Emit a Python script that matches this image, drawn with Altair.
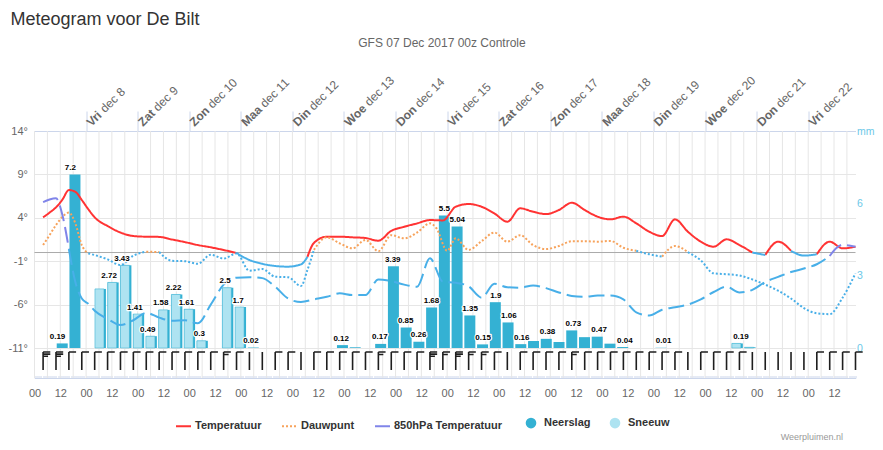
import altair as alt
import pandas as pd

# ---------------- data (local time, hours after 07 Dec 00:00) ----------------
temp_hours = [4, 7, 10, 13, 16, 19, 22, 25, 28, 34, 40, 46, 52, 58, 64, 70, 76, 82, 88, 94,
              100, 106, 112, 118, 124, 127, 130, 136, 142, 148, 154, 160, 166, 172, 178, 184,
              190, 196, 202, 208, 214, 220, 226, 232, 238, 244, 250, 256, 262, 268, 274, 280,
              286, 292, 298, 304, 310, 316, 322, 328, 334, 340, 346, 352, 358, 364, 370, 376, 382]
temp_values = [4.05, 4.6, 5.2, 6.1, 7.2, 7.0, 6.05, 5.0, 4.05, 3.05, 2.3, 1.9, 1.82, 1.8, 1.5, 1.2,
               0.86, 0.6, 0.29, -0.05, -0.86, -1.3, -1.55, -1.63, -1.36, -0.5, 1.1, 1.82, 1.82,
               1.75, 1.67, 1.36, 2.5, 2.97, 3.36, 3.74, 3.7, 5.28, 5.59, 5.28, 4.5, 3.55, 5.09,
               4.7, 4.43, 4.9, 5.74, 4.9, 4.13, 3.82, 4.13, 3.36, 2.4, 1.9, 3.82, 2.4, 1.25, 0.67,
               1.52, 0.86, 0.0, -0.29, 1.25, 0.2, -0.35, -0.2, 1.25, 0.48, 0.67]

dew_hours = [4, 7, 10, 13, 16, 19, 22, 25, 28, 34, 40, 46, 52, 58, 64, 70, 76, 82, 88, 94,
             100, 106, 112, 118, 124, 127, 130, 136, 142, 148, 154, 160, 166, 172, 178, 184,
             187, 192, 196, 202, 208, 214, 220, 226, 232, 238, 244, 250, 256, 262, 268, 274,
             280, 286, 292, 298, 304, 310, 316, 322, 328, 334, 340, 346, 352, 358, 364, 370, 376, 382]
dew_values = [0.86, 2.0, 3.17, 4.1, 4.6, 3.36, 0.86, -0.1, -0.29, -0.79, -1.44, -0.37, 0.1, 0.05,
              -0.95, -1.0, -1.3, -0.25, -0.7, -0.1, -2.1, -1.9, -2.79, -2.85, -3.86, -2.0, 0.3,
              1.75, 1.06, 0.48, 1.45, 0.15, 2.0, 1.63, 2.3, 3.36, 2.8, 0.2, 1.63, 0.3, 1.3, 2.3,
              1.25, 2.0, 0.85, 0.4, 0.75, 1.3, 1.3, 1.25, 1.33, 0.55, 0.2, -0.2, -0.48, 0.75, 0.05,
              -0.9, -2.4, -2.5, -2.65, -3.1, -3.7, -4.4, -5.3, -6.4, -7.0, -7.1, -5.2, -2.4]

t850_hours = [4, 7, 10, 13, 16, 19, 22, 25, 28, 34, 40, 46, 52, 58, 64, 70, 76, 82, 88, 94,
              100, 106, 112, 118, 124, 130, 136, 142, 148, 154, 160, 166, 172, 178, 184, 190,
              196, 202, 208, 214, 220, 226, 232, 238, 244, 250, 256, 262, 268, 274, 280, 286,
              292, 298, 304, 310, 316, 322, 328, 334, 340, 346, 352, 358, 364, 370, 373, 376, 379, 382]
t850_values = [5.8, 6.1, 6.24, 4.3, 0.4, -3.4, -5.3, -5.9, -6.7, -7.65, -8.35, -7.8, -6.95, -7.5,
               -7.85, -7.8, -8.16, -6.0, -3.7, -2.9, -2.85, -2.95, -3.94, -5.3, -5.7, -5.4, -5.1,
               -4.7, -4.9, -4.9, -3.1, -3.3, -3.7, -3.94, -0.67, -3.36, -3.48, -3.9, -5.2, -3.6,
               -4.0, -4.05, -3.8, -4.1, -4.6, -5.0, -5.1, -4.95, -4.95, -5.4, -6.9, -7.25, -6.6,
               -6.3, -6.0, -5.4, -4.55, -3.94, -4.6, -4.3, -3.4, -2.8, -2.25, -1.85, -1.35, -0.4,
               0.5, 0.9, 0.8, 0.67]

# 6-hourly precipitation (mm), periods ending at 13h, 19h, 01h, ... local
precip_end_hours = [13 + 6 * k for k in range(55)]
precip_values = [0.19, 7.2, 0, 2.45, 2.72, 3.43, 1.41, 0.49, 1.58, 2.22, 1.61, 0.3, 0, 2.5, 1.7,
                 0.02, 0, 0, 0, 0, 0, 0, 0.12, 0.03, 0, 0.17, 3.39, 0.85, 0.26, 1.68, 5.5, 5.04,
                 1.35, 0.15, 1.9, 1.06, 0.16, 0.29, 0.38, 0.25, 0.73, 0.45, 0.47, 0.18, 0.04, 0, 0,
                 0.01, 0, 0, 0, 0, 0, 0.19, 0.03]
snow_periods = [3, 4, 5, 6, 7, 8, 9, 10, 11, 13, 14, 53, 54]
unlabelled_periods = [3, 23, 37, 39, 41, 43, 54]

# wind barbs every 6 h (number of feather lines)
barb_hours = [4 + 6 * k for k in range(64)]
barb_types = [3, 3, 1, 1, 1, 1, 1, 1, 1, 1, 1, 1, 1, 1, 2, 1, 0, 0, 1, 1, 0, 1, 1, 1, 1, 1,
              2, 1, 1, 1, 3, 2, 3, 2, 2, 1, 0, 1, 1, 1, 1, 2, 1, 1, 1, 1, 1, 1, 1, 1, 0,
              1, 1, 1, 1, 0, 0, 0, 0, 0, 1, 1, 1, 1]

day_hours = [24 * d for d in range(1, 16)]
day_names = ["Vri", "Zat", "Zon", "Maa", "Din", "Woe", "Don", "Vri", "Zat", "Zon", "Maa",
             "Din", "Woe", "Don", "Vri"]
day_dates = ["dec 8", "dec 9", "dec 10", "dec 11", "dec 12", "dec 13", "dec 14", "dec 15",
             "dec 16", "dec 17", "dec 18", "dec 19", "dec 20", "dec 21", "dec 22"]
grid_hours = list(range(0, 379, 6))

series_names = ["Temperatuur", "Dauwpunt", "850hPa Temperatuur"]
series_colors = ["#ff3333", "#f7a35c", "#8085e9"]
series_dashes = [[1, 0], [2, 2], [16, 6]]
neg_color = "#48afe8"
rain_color = "#34b1d3"
snow_color = "#aee3f1"

# ---------------- table building ----------------
def zone_rows(name, hours, values):
    n = len(values)
    sign = [v >= 0 for v in values]
    groups = []
    s = 0
    for i in range(1, n):
        if sign[i] != sign[i - 1]:
            groups.append([s, i - 1, sign[s]])
            s = i
    groups.append([s, n - 1, sign[s]])
    for g in range(len(groups) - 1):
        a, b = groups[g][1], groups[g + 1][0]
        if abs(values[a]) <= abs(values[b]):
            groups[g + 1][0] = a
        else:
            groups[g][1] = b
    rows = []
    for gi, (s0, e0, above) in enumerate(groups):
        for i in range(s0, e0 + 1):
            rows.append({"series": name, "hour": hours[i], "value": values[i],
                         "run": f"{name}-{gi}", "above": above})
    return rows

line_rows = (zone_rows(series_names[0], temp_hours, temp_values)
             + zone_rows(series_names[1], dew_hours, dew_values)
             + zone_rows(series_names[2], t850_hours, t850_values))
lines_df = pd.DataFrame(line_rows)
pos_df = lines_df[lines_df["above"]].drop(columns="above")
neg_df = lines_df[~lines_df["above"]].drop(columns="above")

rain_df = pd.DataFrame({
    "center": [h - 2.3 for h in precip_end_hours],
    "mm": precip_values,
    "kind": ["Neerslag"] * len(precip_values),
})
snow_df = pd.DataFrame({
    "center": [precip_end_hours[k] - 2.75 for k in snow_periods],
    "mm": [precip_values[k] for k in snow_periods],
    "kind": ["Sneeuw"] * len(snow_periods),
})
label_df = pd.DataFrame([
    {"center": precip_end_hours[k] - 2.3, "mm": v, "label": f"{v:g}"}
    for k, v in enumerate(precip_values) if v > 0 and k not in unlabelled_periods
])
barb_df = pd.DataFrame({"hour": barb_hours, "btype": [str(b) for b in barb_types]})
day_df = pd.DataFrame({"hour": day_hours, "name": day_names, "date": day_dates})
grid_df = pd.DataFrame({"hour": grid_hours})
zero_df = pd.DataFrame({"v": [0]})

# ---------------- scales / axes ----------------
X_SCALE = alt.Scale(domain=[0, 382], nice=False, zero=False)
T_SCALE = alt.Scale(domain=[-11, 14], range=[217, 0], nice=False, zero=False)
M_SCALE = alt.Scale(domain=[0, 9], range=[217, 0], nice=False, zero=False)
FILL_SCALE = alt.Scale(domain=["Neerslag", "Sneeuw"], range=[rain_color, snow_color])
STROKE_SCALE = alt.Scale(domain=series_names, range=series_colors)
DASH_SCALE = alt.Scale(domain=series_names, range=series_dashes)

bottom_axis = alt.Axis(
    orient="bottom", values=list(range(0, 373, 12)),
    labelExpr="datum.value % 24 == 0 ? '00' : '12'", labelFlush=False, labelAngle=0,
    labelColor="#666666", labelFontSize=11, labelPadding=9, ticks=False, tickSize=0,
    domain=True, domainColor="#ccd6eb", grid=False,
    title="Meteogram voor De Bilt", titleX=-24.5, titleY=-354, titleAlign="left",
    titleBaseline="alphabetic", titleFontSize=18, titleFontWeight="normal", titleColor="#333333",
)
minor_axis = alt.Axis(
    orient="top", offset=-247, values=list(range(0, 383)), labels=False, ticks=True,
    tickSize=2.5, tickColor="#ccd6eb", domain=False, grid=False, title=None,
)
top_axis = alt.Axis(
    orient="top", values=day_hours, labels=False, ticks=True, tickSize=20,
    tickColor="#ccd6eb", domain=True, domainColor="#ccd6eb", grid=False,
    title="GFS 07 Dec 2017 00z Controle", titleX=407, titleY=-85, titleAlign="center",
    titleBaseline="alphabetic", titleFontSize=12, titleFontWeight="normal", titleColor="#666666",
)
left_axis = alt.Axis(
    orient="left", values=[-11, -6, -1, 4, 9, 14], labelExpr="datum.value + '°'",
    labelColor="#666666", labelFontSize=11, labelPadding=7, ticks=False, tickSize=0,
    domain=False, grid=True, gridColor="#e6e6e6", title=None,
)
right_axis = alt.Axis(
    orient="right", values=[0, 3, 6, 9], labelExpr="datum.value == 9 ? 'mm' : datum.label",
    labelColor="#6cc8e8", labelFontSize=10.5, labelPadding=1, ticks=False, tickSize=0,
    domain=False, grid=False,
    title="Weerpluimen.nl", titleX=-13, titleY=308.5, titleAngle=0, titleAlign="right",
    titleBaseline="alphabetic", titleFontSize=9, titleFontWeight="normal", titleColor="#999999",
)
line_legend = alt.Legend(
    orient="none", legendX=140.5, legendY=286.5, direction="horizontal", columns=3, title=None,
    symbolType="stroke", symbolSize=225, symbolStrokeWidth=2, labelFontSize=11,
    labelFontWeight="bold", labelColor="#333333", labelOffset=3, columnPadding=16, padding=0,
)
bar_legend = alt.Legend(
    orient="none", legendX=491, legendY=286.5, direction="horizontal", columns=2, title=None,
    symbolType="circle", symbolSize=113, symbolStrokeWidth=0, symbolOpacity=1, labelFontSize=11,
    labelFontWeight="bold", labelColor="#333333", labelOffset=7.5, columnPadding=19, padding=0,
)

def X(field, axis=None):
    return alt.X(field, type="quantitative", scale=X_SCALE, axis=axis)

# ---------------- layers ----------------
vgrid = alt.Chart(grid_df).mark_rule(color="#e6e6e6", strokeWidth=1).encode(
    x=X("hour", bottom_axis))
minor_ticks = alt.Chart(grid_df).mark_rule(opacity=0).encode(x=X("hour", minor_axis))
top_ticks = alt.Chart(day_df).mark_rule(opacity=0).encode(x=X("hour", top_axis))

zero_line = alt.Chart(zero_df).mark_rule(color="#aaaaaa", strokeWidth=1).encode(
    y=alt.Y("v:Q", scale=T_SCALE, axis=None))

rain_bars = alt.Chart(rain_df).mark_bar(size=11).encode(
    x=X("center"),
    y=alt.Y("mm:Q", scale=M_SCALE, axis=right_axis),
    fill=alt.Fill("kind:N", scale=FILL_SCALE, legend=bar_legend),
)
snow_bars = alt.Chart(snow_df).mark_bar(size=9, stroke=rain_color, strokeWidth=0.5).encode(
    x=X("center"),
    y=alt.Y("mm:Q", scale=M_SCALE, axis=None),
    fill=alt.Fill("kind:N", scale=FILL_SCALE, legend=bar_legend),
)

pos_lines = alt.Chart(pos_df).mark_line(interpolate="monotone", strokeWidth=2).encode(
    x=X("hour"),
    y=alt.Y("value:Q", scale=T_SCALE, axis=left_axis),
    stroke=alt.Stroke("series:N", scale=STROKE_SCALE, legend=line_legend),
    strokeDash=alt.StrokeDash("series:N", scale=DASH_SCALE, legend=line_legend),
    detail="run:N",
)
neg_lines = alt.Chart(neg_df).mark_line(interpolate="monotone", strokeWidth=2,
                                        stroke=neg_color).encode(
    x=X("hour"),
    y=alt.Y("value:Q", scale=T_SCALE, axis=None),
    strokeDash=alt.StrokeDash("series:N", scale=DASH_SCALE, legend=line_legend),
    detail="run:N",
)

label_halo = alt.Chart(label_df).mark_text(
    fontSize=8, fontWeight="bold", baseline="alphabetic", dy=-4.5, color="white",
    stroke="white", strokeWidth=2.5, strokeJoin="round").encode(
    x=X("center"), y=alt.Y("mm:Q", scale=M_SCALE, axis=None), text="label:N")
label_text = alt.Chart(label_df).mark_text(
    fontSize=8, fontWeight="bold", baseline="alphabetic", dy=-4.5, color="#000000").encode(
    x=X("center"), y=alt.Y("mm:Q", scale=M_SCALE, axis=None), text="label:N")

barb_paths = [
    "M0,-1L0,1",
    "M0,-1L0,1M0,-1L0.8,-1",
    "M0,-1L0,1M0,-1L0.8,-1M0,-0.72L0.55,-0.72",
    "M0,-1L0,1M0,-1L0.8,-1M0,-0.76L0.8,-0.76M0,-0.52L0.55,-0.52",
]
barbs = alt.Chart(barb_df).mark_point(filled=False, opacity=1, strokeWidth=1.6,
                                      color="#1e1e1e").encode(
    x=X("hour"),
    y=alt.value(230),
    shape=alt.Shape("btype:N", scale=alt.Scale(domain=["0", "1", "2", "3"], range=barb_paths),
                    legend=None),
    size=alt.value(324),
)

# top day labels: bold day name + regular date, rotated
bold_width = {"Vri": 16.0, "Zat": 18.0, "Zon": 22.0, "Maa": 23.3, "Din": 19.3,
              "Woe": 25.3, "Don": 23.3}
base_shift = 3.8
day_bold = alt.Chart(day_df).mark_text(
    angle=315, align="left", baseline="alphabetic", dx=base_shift, dy=base_shift,
    fontSize=12, fontWeight="bold", color="#666666").encode(
    x=X("hour"), y=alt.value(-4), text="name:N")
day_regular = []
for nm, w in bold_width.items():
    day_regular.append(
        alt.Chart(day_df).transform_filter(alt.datum.name == nm).mark_text(
            angle=315, align="left", baseline="alphabetic", dx=base_shift + w + 3.3,
            dy=base_shift, fontSize=12, fontWeight="normal", color="#666666").encode(
            x=X("hour"), y=alt.value(-4), text="date:N"))

chart = alt.layer(
    vgrid, minor_ticks, top_ticks, zero_line, rain_bars, snow_bars, pos_lines, neg_lines,
    label_halo, label_text, barbs, day_bold, *day_regular,
).resolve_scale(x="independent", y="independent").properties(
    width=821, height=247,
    padding={"left": 26.5, "top": 123, "right": 19.5, "bottom": 64},
    autosize=alt.AutoSizeParams(type="none"),
).configure(font="Liberation Sans").configure_view(stroke=None)

chart.save("out.html", embed_options={"renderer": "svg", "actions": False})
